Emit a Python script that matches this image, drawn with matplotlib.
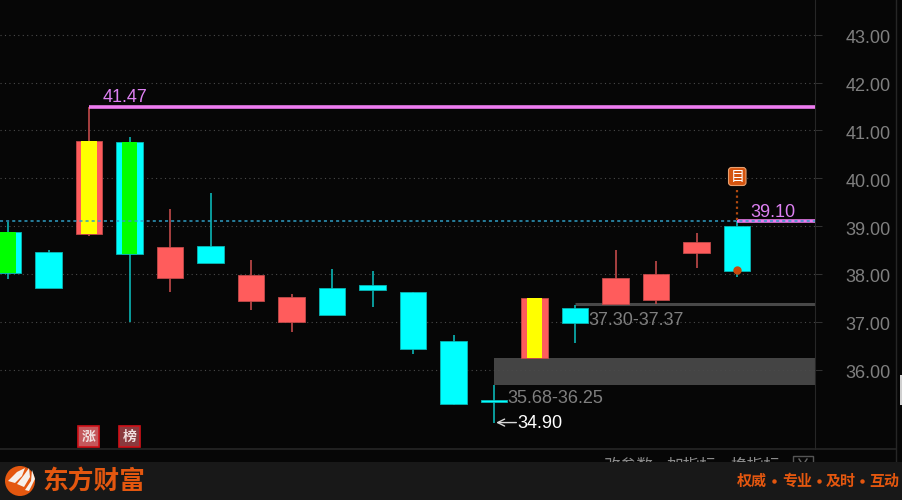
import matplotlib
matplotlib.use("Agg")
import matplotlib.pyplot as plt
from matplotlib.patches import Circle, FancyBboxPatch, Polygon, Rectangle
from matplotlib.transforms import ScaledTranslation

# --- data ---
opens = [38.88, 38.45, 38.84, 40.76, 37.91, 38.59, 37.44, 36.99, 37.71, 37.77,
         37.62, 36.60, 35.36, 36.25, 37.28, 37.36, 37.46, 38.44, 39.00]
closes = [38.02, 37.71, 40.78, 38.42, 38.57, 38.23, 37.98, 37.51, 37.13, 37.67,
          36.42, 35.28, 35.32, 37.50, 36.97, 37.91, 38.00, 38.67, 38.07]
highs = [39.09, 38.50, 41.49, 40.86, 39.35, 39.69, 38.29, 37.58, 38.10, 38.06,
         37.62, 36.72, 35.68, 37.50, 37.35, 38.49, 38.27, 38.86, 39.10]
lows = [37.89, 37.71, 38.80, 37.00, 37.62, 38.23, 37.24, 36.78, 37.13, 37.30,
        36.32, 35.26, 34.89, 36.25, 36.56, 37.36, 37.38, 38.12, 37.94]
limit_up = [2, 13]
limit_down = [0, 3]

y_ticks = [36, 37, 38, 39, 40, 41, 42, 43]
y_tick_labels = ["36.00", "37.00", "38.00", "39.00", "40.00", "41.00", "42.00", "43.00"]

high_price = 41.49
last_price = 39.10
zone_low, zone_high = 35.68, 36.25
thin_zone = 37.37

BG = "#060606"
RED = "#ff5c5c"
CYAN = "#00ffff"
ORANGE = "#e4570f"
LINE = "#262626"
GREY = "#7f7f7f"
PINK = "#ee7cf0"
CJK = ["Noto Sans CJK SC"]

plt.rcParams["font.family"] = ["Liberation Sans", "Noto Sans CJK SC", "DejaVu Sans"]

fig = plt.figure(figsize=(9.03, 5), dpi=100, facecolor=BG)

# --- main chart ---
ax = fig.add_axes([0, 51 / 500, 815 / 903, 449 / 500], facecolor=BG)
ax.set_xlim(-0.2, 19.924)
ax.set_ylim(34.337, 43.73)
ax.set_xticks([])
ax.set_yticks(y_ticks)
ax.set_yticklabels(y_tick_labels, fontsize=13, color=GREY)
ax.yaxis.tick_right()
ax.tick_params(axis="y", length=5, width=0.7, color="#333333", pad=17)
for label in ax.get_yticklabels():
    label.set_transform(label.get_transform() + ScaledTranslation(0, -1.5 / 72, fig.dpi_scale_trans))
ax.grid(axis="y", color="#4a4a4a", linewidth=0.8, linestyle=(0, (1, 3)))
for side in ["top", "left", "bottom"]:
    ax.spines[side].set_visible(False)
ax.spines["right"].set_color(LINE)

# zones and level lines
ax.add_patch(Rectangle((12, zone_low), 7.924, zone_high - zone_low, color="#444444", zorder=1, lw=0))
ax.hlines(thin_zone, 14, 19.924, color="#484848", linewidth=2.2, zorder=1)
ax.hlines(high_price, 2, 19.924, color=PINK, linewidth=2.6, zorder=4)
ax.hlines(last_price, 18, 19.924, color=PINK, linewidth=2.6, zorder=4)
ax.hlines(last_price, -0.2, 19.924, color="#2f9ec4", linewidth=1.1, linestyle=(0, (2, 2)), zorder=5)

# candles
for i in range(len(opens)):
    up = closes[i] > opens[i]
    body = RED if up else CYAN
    wick = "#c24a4a" if up else "#0ab5b5"
    ax.vlines(i, lows[i], highs[i], color=wick, linewidth=1.2, zorder=2)
    ax.bar(i, abs(closes[i] - opens[i]), bottom=min(opens[i], closes[i]), width=0.655,
           color=body, edgecolor=wick, linewidth=0.6, zorder=3)
    if i in limit_up or i in limit_down:
        ax.bar(i, abs(closes[i] - opens[i]), bottom=min(opens[i], closes[i]), width=0.38,
               color="#ffff00" if i in limit_up else "#00ff00", linewidth=0, zorder=3.5)

# price labels
ax.text(2.33, 41.69, "41.47", color="#dd80f2", fontsize=13, va="center", zorder=6)
ax.text(18.33, 39.28, "39.10", color="#dd80f2", fontsize=13, va="center", zorder=6)
ax.text(14.33, 37.03, "37.30-37.37", color=GREY, fontsize=13, va="center", zorder=6)
ax.text(12.33, 35.39, "35.68-36.25", color=GREY, fontsize=13, va="center", zorder=6)
ax.text(12.58, 34.87, "34.90", color="white", fontsize=13, va="center", zorder=6)
ax.annotate("", xy=(12.05, 34.89), xytext=(12.55, 34.89), zorder=6,
            arrowprops=dict(arrowstyle="->,head_length=0.5,head_width=0.25", color="#d8d8d8",
                            lw=1, shrinkA=0, shrinkB=0))

# note marker above the last candle
ax.vlines(18, 39.12, 39.8, color="#b24a10", linewidth=1.6, linestyle=(0, (1, 1.5)), zorder=6)
ax.plot([18], [38.08], "o", color="#c8480c", markersize=5, zorder=6)

# --- window chrome in pixel coordinates ---
top = fig.add_axes([0, 0, 1, 1], facecolor="none")
top.set_xlim(0, 903)
top.set_ylim(500, 0)
top.axis("off")

top.plot([0, 896], [449, 449], color=LINE, linewidth=1.2)
top.plot([896, 896], [0, 462], color=LINE, linewidth=1)
top.add_patch(Rectangle((900, 375), 3, 30, color="#cfcfcf", lw=0))

# note icon
top.add_patch(FancyBboxPatch((730, 169), 14.5, 15, boxstyle="round,pad=1.5,rounding_size=3",
                             facecolor="#d4540f", edgecolor="#e8a070", linewidth=0.8))
top.text(737.3, 176.5, "目", color="white", fontsize=10, ha="center", va="center", family=CJK)

# badges
for bx, ch, fill in zip([78, 119], ["涨", "榜"], ["#c4585c", "#8a3a3e"]):
    top.add_patch(Rectangle((bx, 426), 21, 21, facecolor=fill, edgecolor="#d01018", linewidth=1.2))
    top.text(bx + 10.5, 436.5, ch, color="#f0e0e0", fontsize=10, ha="center", va="center",
             family=CJK, fontweight="bold")

# half hidden toolbar behind the footer
for tx, label in zip([628, 691, 755], ["改参数", "加指标", "换指标"]):
    top.text(tx, 466, label, color="#8a8a8a", fontsize=12, ha="center", va="center", family=CJK)
top.add_patch(Rectangle((793, 456), 20, 14, facecolor="none", edgecolor="#555555", linewidth=1))
top.plot([799, 803, 807], [459, 465, 459], color="#666666", linewidth=1)

# footer
top.add_patch(Rectangle((0, 462), 903, 38, color="#181818", lw=0, zorder=5))
top.add_patch(Circle((20, 481), 15, color=ORANGE, lw=0, zorder=6))
for pts in [[(8, 481), (17, 472), (25, 468), (22, 476), (15, 483)],
            [(17, 484), (24, 475), (29, 468), (30, 477), (24, 487)],
            [(25, 490), (31, 481), (32, 470), (35, 479), (29, 491)]]:
    top.add_patch(Polygon(pts, closed=True, color="#f6f0ea", lw=0, zorder=7))
top.text(42, 481, "东方财富", color=ORANGE, fontsize=18.5, fontweight="bold", va="center",
         family=CJK, zorder=7)
for sx, word in zip([752, 797, 841, 884], ["权威", "专业", "及时", "互动"]):
    top.text(sx, 481, word, color=ORANGE, fontsize=10.8, fontweight="bold",
             ha="center", va="center", family=CJK, zorder=7)
for dx in [774, 819, 862]:
    top.plot([dx], [481], "o", color=ORANGE, markersize=2.2, zorder=7)

fig.savefig("out.png", dpi=100, facecolor=BG)
